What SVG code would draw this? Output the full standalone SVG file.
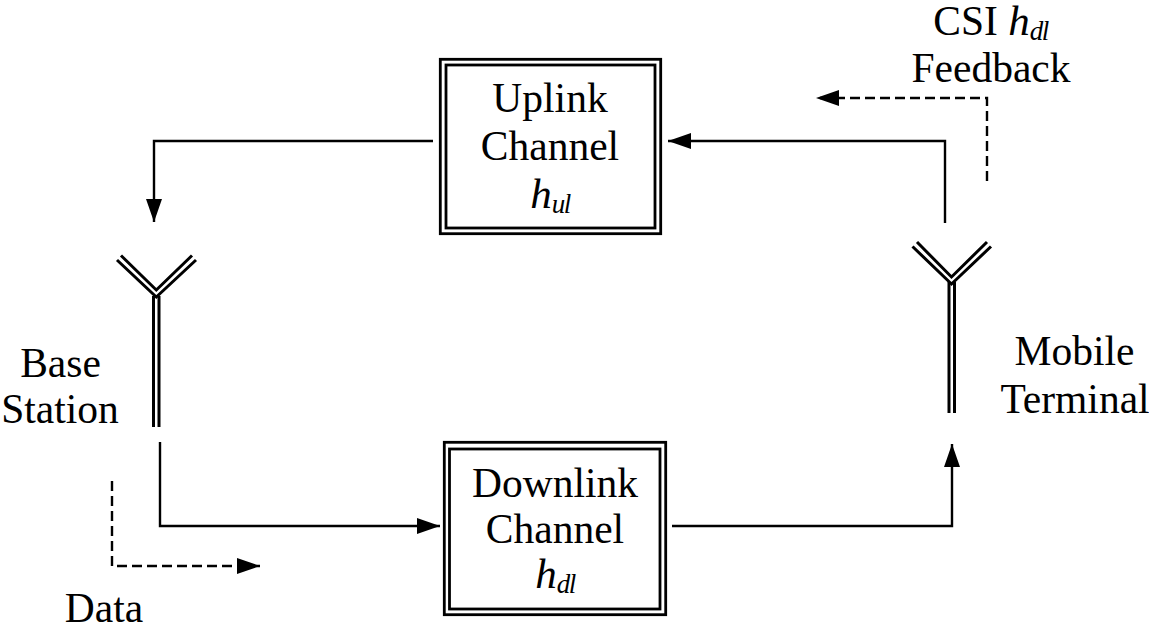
<svg xmlns="http://www.w3.org/2000/svg" width="1149" height="629" viewBox="0 0 1149 629">
<style>
text{font-family:"Liberation Serif","Times New Roman",serif;font-size:41.5px;fill:#000;text-anchor:middle}
.i{font-size:43px;font-style:italic}
.s{font-size:27px;font-style:italic;letter-spacing:-1.5px}
.l{fill:none;stroke:#000;stroke-width:2.4}
.d{fill:none;stroke:#000;stroke-width:2.4;stroke-dasharray:10 5}
.b{fill:none;stroke:#000;stroke-width:2.8}
.a{fill:none;stroke:#000;stroke-width:3}
</style>
<defs>
<marker id="ah" markerUnits="userSpaceOnUse" markerWidth="24" markerHeight="16" refX="23" refY="8" orient="auto"><path d="M0 0L23 8L0 16Z" fill="#000"/></marker>
</defs>
<rect width="1149" height="629" fill="#fff"/>
<g id="connectors">
<path class="l" d="M433 141H154V222" marker-end="url(#ah)"/>
<path class="l" d="M945 223V141H668" marker-end="url(#ah)"/>
<path class="l" d="M160 442V526H440" marker-end="url(#ah)"/>
<path class="l" d="M672 526H952V444" marker-end="url(#ah)"/>
<path class="d" d="M987 181V98H816" marker-end="url(#ah)"/>
<path class="d" d="M112 481V566H260" marker-end="url(#ah)"/>
</g>
<g id="uplink">
<rect class="b" x="440.300" y="59.300" width="220.400" height="174.400"/>
<rect class="b" x="446" y="65" width="209" height="163"/>
<text x="550" y="112">Uplink</text>
<text x="550" y="160">Channel</text>
<text x="550" y="208"><tspan class="i">h</tspan><tspan class="s" dy="5">ul</tspan></text>
</g>
<g id="downlink">
<rect class="b" x="444.300" y="442.300" width="221.400" height="172.400"/>
<rect class="b" x="449.500" y="449" width="210.500" height="160"/>
<text x="555" y="497">Downlink</text>
<text x="555" y="543">Channel</text>
<text x="555" y="588"><tspan class="i">h</tspan><tspan class="s" dy="5">dl</tspan></text>
</g>
<g id="base-station">
<path class="a" d="M153.500 427V296M159 427V296"/>
<path class="a" d="M117 260L156.300 297L196 260M121 255.500L156.300 290L192 255.500"/>
<text x="60.500" y="377">Base</text>
<text x="60" y="423">Station</text>
</g>
<g id="mobile-terminal">
<path class="a" d="M949 413V282M954.500 413V282"/>
<path class="a" d="M912.500 246.500L951.500 284L991 246.500M917 242L951.500 277L987 242"/>
<text x="1074.500" y="365">Mobile</text>
<text x="1075" y="413">Terminal</text>
</g>
<g id="feedback-label">
<text x="990.500" y="35">CSI <tspan class="i">h</tspan><tspan class="s" dy="5">dl</tspan></text>
<text x="991" y="82">Feedback</text>
</g>
<g id="data-label">
<text x="104" y="622">Data</text>
</g>
</svg>
